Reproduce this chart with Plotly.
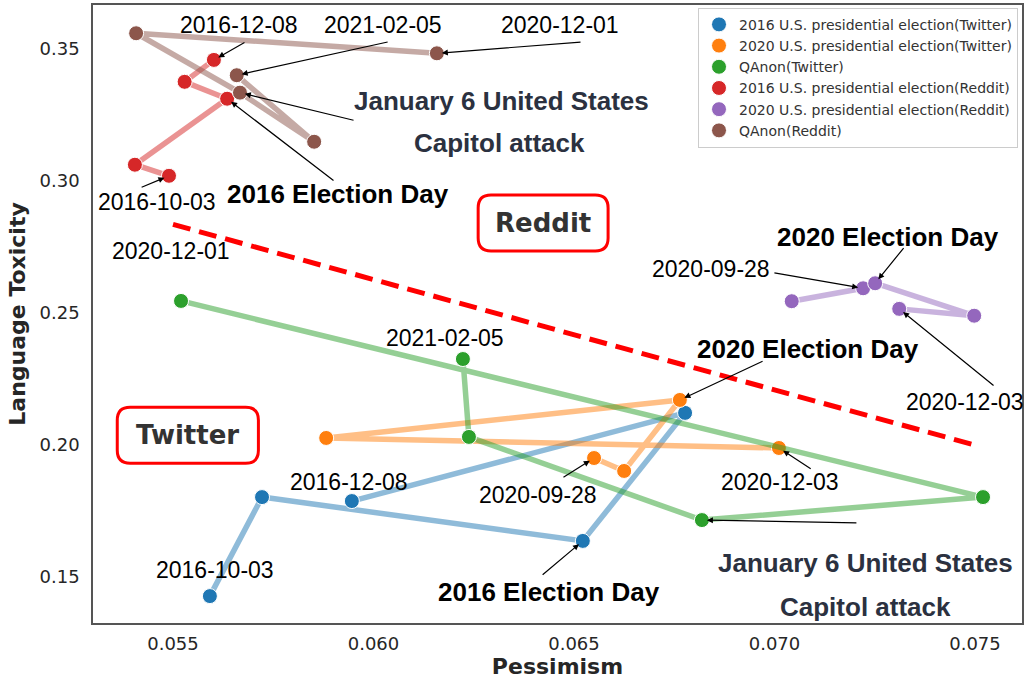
import plotly.graph_objects as go

# ---------------- data ----------------
series_names = [
    "2016 U.S. presidential election(Twitter)",
    "2020 U.S. presidential election(Twitter)",
    "QAnon(Twitter)",
    "2016 U.S. presidential election(Reddit)",
    "2020 U.S. presidential election(Reddit)",
    "QAnon(Reddit)",
]

tw2016_x = [0.05592, 0.05722, 0.06522, 0.06777, 0.05946]
tw2016_y = [0.1425, 0.1800, 0.1634, 0.2119, 0.1785]

tw2020_x = [0.06550, 0.06625, 0.06764, 0.05882, 0.07011]
tw2020_y = [0.1948, 0.1899, 0.2168, 0.2024, 0.1986]

twq_x = [0.0552, 0.0752, 0.06819, 0.06238, 0.06223]
twq_y = [0.2543, 0.1800, 0.1713, 0.2028, 0.2323]

rd2016_x = [0.0549, 0.05405, 0.05635, 0.05529, 0.05602]
rd2016_y = [0.3017, 0.3059, 0.3309, 0.3373, 0.3456]

rd2020_x = [0.07043, 0.07221, 0.07251, 0.07498, 0.07311]
rd2020_y = [0.2542, 0.2591, 0.2610, 0.2487, 0.2513]

rdq_x = [0.06158, 0.05408, 0.05667, 0.05852, 0.05659]
rdq_y = [0.3481, 0.3557, 0.3332, 0.3146, 0.3398]

sep_x = [0.055, 0.075]
sep_y = [0.2833, 0.1997]

x_ticks = [0.055, 0.060, 0.065, 0.070, 0.075]
x_tick_labels = ["0.055", "0.060", "0.065", "0.070", "0.075"]
y_ticks = [0.15, 0.20, 0.25, 0.30, 0.35]
y_tick_labels = ["0.15", "0.20", "0.25", "0.30", "0.35"]

colors = ["#1f77b4", "#ff7f0e", "#2ca02c", "#d62728", "#9467bd", "#8c564b"]

all_x = [tw2016_x, tw2020_x, twq_x, rd2016_x, rd2020_x, rdq_x]
all_y = [tw2016_y, tw2020_y, twq_y, rd2016_y, rd2020_y, rdq_y]


def rgba(hexc, a):
    h = hexc.lstrip("#")
    r, g, b = int(h[0:2], 16), int(h[2:4], 16), int(h[4:6], 16)
    return f"rgba({r},{g},{b},{a})"


fig = go.Figure()

# separator
fig.add_trace(go.Scatter(x=sep_x, y=sep_y, mode="lines",
                         line=dict(color="#ff0000", width=5, dash="18px,9px"),
                         showlegend=False, hoverinfo="skip"))

for name, xs, ys, c in zip(series_names, all_x, all_y, colors):
    fig.add_trace(go.Scatter(x=xs, y=ys, mode="lines",
                             line=dict(color=rgba(c, 0.5), width=5.5),
                             showlegend=False, hoverinfo="skip"))
    fig.add_trace(go.Scatter(x=xs, y=ys, mode="markers", name=name,
                             marker=dict(color=c, size=15,
                                         line=dict(color="white", width=1))))

DATE_FONT = dict(family="Liberation Sans, Arial", size=23, color="black")
BOLD_FONT = dict(family="Liberation Sans, Arial", size=26, color="black", weight="bold")
SLATE_FONT = dict(family="Liberation Sans, Arial", size=26, color="#2b3140", weight="bold")
BOX_FONT = dict(family="DejaVu Sans", size=26, color="#333333", weight="bold")

texts = [
    # Reddit side
    ("2016-12-08", 0.05665, 0.3588, DATE_FONT),
    ("2021-02-05", 0.06024, 0.3588, DATE_FONT),
    ("2020-12-01", 0.06465, 0.3588, DATE_FONT),
    ("January 6 United States", 0.06318, 0.3300, SLATE_FONT),
    ("Capitol attack", 0.06315, 0.3141, SLATE_FONT),
    ("2016 Election Day", 0.05911, 0.2948, BOLD_FONT),
    ("2016-10-03", 0.0546, 0.2919, DATE_FONT),
    ("Reddit", 0.06423, 0.2838, BOX_FONT),
    ("2020 Election Day", 0.07283, 0.2785, BOLD_FONT),
    ("2020-09-28", 0.06842, 0.2664, DATE_FONT),
    ("2020-12-03", 0.07475, 0.2160, DATE_FONT),
    # Twitter side
    ("Twitter", 0.05537, 0.2035, BOX_FONT),
    ("2020-12-01", 0.05495, 0.2732, DATE_FONT),
    ("2021-02-05", 0.06178, 0.2403, DATE_FONT),
    ("2020 Election Day", 0.07084, 0.2361, BOLD_FONT),
    ("2020-09-28", 0.0641, 0.1808, DATE_FONT),
    ("2020-12-03", 0.07014, 0.1857, DATE_FONT),
    ("2016-12-08", 0.05939, 0.1857, DATE_FONT),
    ("2016-10-03", 0.05605, 0.1524, DATE_FONT),
    ("2016 Election Day", 0.06438, 0.1441, BOLD_FONT),
    ("January 6 United States", 0.07226, 0.1550, SLATE_FONT),
    ("Capitol attack", 0.07226, 0.1384, SLATE_FONT),
]

annotations = []
for t, x, y, f in texts:
    annotations.append(dict(text=t, x=x, y=y, xref="x", yref="y", showarrow=False,
                            font=f, xanchor="center", yanchor="middle"))

# arrows: (target series x, y, index, tail x, tail y)
arrows = [
    (rd2016_x, rd2016_y, 4, 0.05682, 0.3525),
    (rdq_x, rdq_y, 4, 0.06039, 0.3525),
    (rdq_x, rdq_y, 0, 0.0652, 0.3524),
    (rdq_x, rdq_y, 2, 0.05954, 0.3226),
    (rd2016_x, rd2016_y, 2, 0.05904, 0.2995),
    (rd2016_x, rd2016_y, 0, 0.05418, 0.2971),
    (rd2020_x, rd2020_y, 2, 0.07325, 0.2749),
    (rd2020_x, rd2020_y, 1, 0.06996, 0.2650),
    (rd2020_x, rd2020_y, 4, 0.0755, 0.2218),
    (tw2020_x, tw2020_y, 2, 0.06974, 0.2317),
    (tw2020_x, tw2020_y, 0, 0.0647, 0.1872),
    (tw2020_x, tw2020_y, 4, 0.07094, 0.1904),
    (tw2016_x, tw2016_y, 2, 0.06418, 0.1501),
    (twq_x, twq_y, 2, 0.07208, 0.1702),
]
for xs, ys, i, tx, ty in arrows:
    annotations.append(dict(text="", x=xs[i], y=ys[i], xref="x", yref="y",
                            ax=tx, ay=ty, axref="x", ayref="y", showarrow=True,
                            arrowhead=2, arrowsize=1, arrowwidth=1.2,
                            arrowcolor="black", standoff=5))


def rounded_rect(x0, x1, y0, y1, rx, ry):
    return (f"M {x0+rx},{y0} L {x1-rx},{y0} Q {x1},{y0} {x1},{y0+ry} "
            f"L {x1},{y1-ry} Q {x1},{y1} {x1-rx},{y1} "
            f"L {x0+rx},{y1} Q {x0},{y1} {x0},{y1-ry} "
            f"L {x0},{y0+ry} Q {x0},{y0} {x0+rx},{y0} Z")


rx, ry = 0.00032, 0.0049
shapes = [
    dict(type="path", xref="x", yref="y",
         path=rounded_rect(0.05361, 0.05713, 0.1928, 0.2140, rx, ry),
         line=dict(color="#ff0000", width=3), fillcolor="white", layer="below"),
    dict(type="path", xref="x", yref="y",
         path=rounded_rect(0.06261, 0.06585, 0.2732, 0.2944, rx, ry),
         line=dict(color="#ff0000", width=3), fillcolor="white", layer="below"),
]

TICK_FONT = dict(family="DejaVu Sans", size=18, color="#262626")
TITLE_FONT = dict(family="DejaVu Sans", size=22, color="#262626", weight="bold")

fig.update_layout(
    width=1026, height=681,
    margin=dict(l=93, r=4, t=5, b=58),
    paper_bgcolor="white", plot_bgcolor="white",
    annotations=annotations, shapes=shapes,
    showlegend=True,
    legend=dict(x=0.9957, y=0.9955, xanchor="right", yanchor="top",
                bgcolor="rgba(255,255,255,0.8)", bordercolor="#cccccc", borderwidth=1,
                font=dict(family="DejaVu Sans", size=14, color="#333333"),
                itemsizing="trace"),
    xaxis=dict(range=[0.053005, 0.076172], tickvals=x_ticks, ticktext=x_tick_labels,
               showgrid=False, zeroline=False, showline=True, mirror=True,
               linecolor="#555555", linewidth=1.5, ticks="outside", ticklen=4,
               tickcolor="rgba(0,0,0,0)", tickfont=TICK_FONT, automargin=False,
               title=dict(text="Pessimism", font=TITLE_FONT, standoff=4)),
    yaxis=dict(range=[0.13231, 0.36640], tickvals=y_ticks, ticktext=y_tick_labels,
               showgrid=False, zeroline=False, showline=True, mirror=True,
               linecolor="#555555", linewidth=1.5, ticks="outside", ticklen=8,
               tickcolor="rgba(0,0,0,0)", tickfont=TICK_FONT, automargin=False,
               title=dict(text="Language Toxicity", font=TITLE_FONT, standoff=8)),
)

fig.write_html("out.html", config={"displayModeBar": False},
               post_script="document.body.style.margin='0';document.body.style.overflow='hidden';")
